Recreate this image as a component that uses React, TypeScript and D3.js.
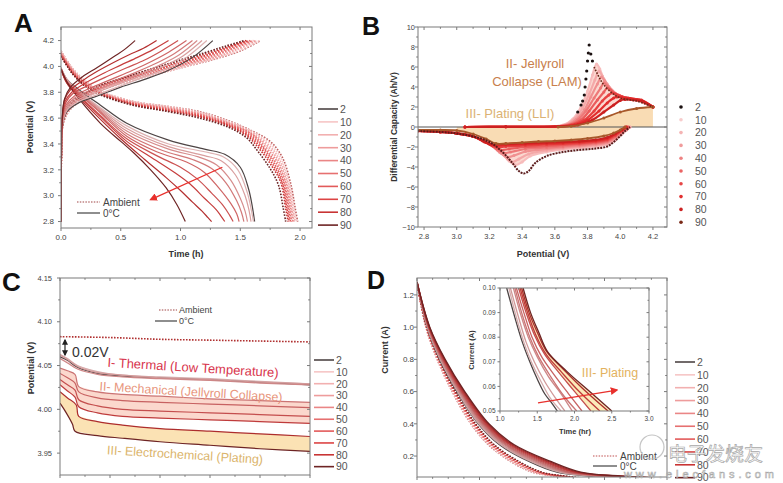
import React from 'react';
import * as d3 from 'd3';

type Pt = [number, number];

const cycles = ['2', '10', '20', '30', '40', '50', '60', '70', '80', '90'];
const lineColors = ['#4d4444', '#f6c6c6', '#f2b0b0', '#ee9c9c', '#ea8686', '#e67070', '#e25a5a', '#dc4444', '#c83434', '#6e2424'];
const dotColors = ['#1a1010', '#f7cccc', '#f4b4b4', '#f09c9c', '#ee8282', '#ea6464', '#e64646', '#e23030', '#cc2222', '#7a2a18'];
const bCurveColors = ['#5a1a1a', '#f7bcbc', '#f4a8a8', '#f09090', '#ee7878', '#ea5c5c', '#e64040', '#e22c2c', '#cc2020', '#a8582a'];

// ---------- Panel A: potential vs time ----------
const aXTicks = [0, 0.5, 1.0, 1.5, 2.0];
const aYTicks = [2.8, 3.0, 3.2, 3.4, 3.6, 3.8, 4.0, 4.2];
const aDis0C: Pt[][] = [
  [[0, 3.99], [0.05, 3.9], [0.15, 3.82], [0.33, 3.7], [0.55, 3.56], [0.9, 3.43], [1.2, 3.36], [1.37, 3.32], [1.5, 3.22], [1.57, 3.05], [1.6, 2.92], [1.62, 2.8]],
  [[0, 3.99], [0.05, 3.9], [0.15, 3.81], [0.33, 3.68], [0.55, 3.54], [0.9, 3.4], [1.2, 3.34], [1.36, 3.3], [1.48, 3.2], [1.56, 3.02], [1.59, 2.9], [1.61, 2.8]],
  [[0, 3.99], [0.05, 3.89], [0.15, 3.8], [0.33, 3.67], [0.55, 3.52], [0.9, 3.38], [1.2, 3.31], [1.34, 3.27], [1.46, 3.16], [1.54, 3.0], [1.57, 2.9], [1.59, 2.8]],
  [[0, 3.99], [0.05, 3.89], [0.15, 3.8], [0.33, 3.66], [0.55, 3.5], [0.9, 3.36], [1.15, 3.3], [1.3, 3.24], [1.42, 3.12], [1.5, 2.98], [1.54, 2.88], [1.56, 2.8]],
  [[0, 3.98], [0.05, 3.88], [0.15, 3.79], [0.33, 3.65], [0.55, 3.48], [0.85, 3.35], [1.1, 3.28], [1.26, 3.21], [1.38, 3.1], [1.47, 2.96], [1.51, 2.87], [1.53, 2.8]],
  [[0, 3.98], [0.05, 3.88], [0.15, 3.79], [0.33, 3.64], [0.55, 3.46], [0.8, 3.34], [1.05, 3.26], [1.2, 3.18], [1.32, 3.06], [1.42, 2.94], [1.47, 2.86], [1.49, 2.8]],
  [[0, 3.98], [0.05, 3.88], [0.15, 3.78], [0.33, 3.62], [0.55, 3.44], [0.8, 3.31], [1.0, 3.22], [1.14, 3.13], [1.26, 3.02], [1.36, 2.92], [1.41, 2.85], [1.44, 2.8]],
  [[0, 3.98], [0.05, 3.87], [0.15, 3.77], [0.33, 3.61], [0.55, 3.42], [0.75, 3.3], [0.95, 3.18], [1.08, 3.09], [1.2, 2.98], [1.3, 2.89], [1.34, 2.84], [1.37, 2.8]],
  [[0, 3.98], [0.05, 3.87], [0.15, 3.76], [0.33, 3.59], [0.5, 3.44], [0.7, 3.28], [0.88, 3.14], [1.0, 3.04], [1.1, 2.95], [1.18, 2.88], [1.23, 2.83], [1.26, 2.8]],
  [[0, 3.98], [0.05, 3.88], [0.15, 3.75], [0.33, 3.56], [0.5, 3.42], [0.61, 3.33], [0.75, 3.2], [0.88, 3.06], [0.97, 2.93], [1.04, 2.8]],
];
const aChg0C: Pt[][] = [
  [[0, 2.8], [0.004, 3.3], [0.015, 3.55], [0.05, 3.65], [0.15, 3.72], [0.3, 3.77], [0.5, 3.84], [0.7, 3.9], [0.9, 3.97], [1.1, 4.07], [1.27, 4.2]],
  [[0, 2.8], [0.004, 3.3], [0.015, 3.56], [0.05, 3.66], [0.15, 3.73], [0.3, 3.78], [0.5, 3.85], [0.7, 3.92], [0.9, 3.99], [1.05, 4.07], [1.22, 4.2]],
  [[0, 2.8], [0.004, 3.3], [0.015, 3.57], [0.05, 3.67], [0.14, 3.74], [0.3, 3.8], [0.5, 3.87], [0.7, 3.94], [0.88, 4.01], [1.02, 4.08], [1.18, 4.2]],
  [[0, 2.8], [0.004, 3.32], [0.014, 3.58], [0.05, 3.68], [0.13, 3.75], [0.28, 3.81], [0.48, 3.88], [0.68, 3.95], [0.85, 4.02], [0.99, 4.09], [1.14, 4.2]],
  [[0, 2.8], [0.004, 3.33], [0.013, 3.59], [0.045, 3.69], [0.12, 3.76], [0.26, 3.82], [0.45, 3.89], [0.64, 3.96], [0.81, 4.03], [0.95, 4.1], [1.1, 4.2]],
  [[0, 2.8], [0.004, 3.34], [0.012, 3.6], [0.04, 3.7], [0.11, 3.77], [0.24, 3.83], [0.42, 3.9], [0.6, 3.97], [0.76, 4.04], [0.9, 4.11], [1.05, 4.2]],
  [[0, 2.8], [0.004, 3.35], [0.011, 3.6], [0.04, 3.72], [0.1, 3.79], [0.22, 3.85], [0.38, 3.92], [0.55, 3.99], [0.7, 4.05], [0.84, 4.12], [0.98, 4.2]],
  [[0, 2.8], [0.003, 3.36], [0.01, 3.6], [0.035, 3.73], [0.09, 3.8], [0.2, 3.87], [0.34, 3.94], [0.5, 4.01], [0.64, 4.07], [0.77, 4.13], [0.9, 4.2]],
  [[0, 2.8], [0.003, 3.38], [0.01, 3.6], [0.03, 3.74], [0.08, 3.82], [0.18, 3.89], [0.3, 3.96], [0.44, 4.03], [0.57, 4.09], [0.69, 4.14], [0.8, 4.2]],
  [[0, 2.8], [0.003, 3.4], [0.01, 3.6], [0.03, 3.75], [0.08, 3.84], [0.18, 3.92], [0.3, 3.99], [0.45, 4.08], [0.53, 4.13], [0.62, 4.2]],
];
const aChgAmb: Pt[][] = [
  [[0, 2.8], [0.005, 3.35], [0.02, 3.56], [0.08, 3.67], [0.2, 3.75], [0.35, 3.82], [0.55, 3.88], [0.8, 3.94], [1.05, 4.0], [1.3, 4.06], [1.5, 4.12], [1.67, 4.2]],
  [[0, 2.8], [0.005, 3.35], [0.02, 3.56], [0.08, 3.67], [0.2, 3.75], [0.35, 3.82], [0.55, 3.88], [0.8, 3.94], [1.05, 4.0], [1.3, 4.065], [1.5, 4.125], [1.66, 4.2]],
  [[0, 2.8], [0.005, 3.36], [0.02, 3.57], [0.08, 3.68], [0.2, 3.76], [0.35, 3.83], [0.55, 3.89], [0.8, 3.95], [1.05, 4.01], [1.3, 4.07], [1.48, 4.13], [1.64, 4.2]],
  [[0, 2.8], [0.005, 3.36], [0.02, 3.57], [0.08, 3.68], [0.2, 3.76], [0.35, 3.83], [0.55, 3.89], [0.8, 3.95], [1.05, 4.015], [1.3, 4.075], [1.47, 4.135], [1.63, 4.2]],
  [[0, 2.8], [0.005, 3.37], [0.02, 3.58], [0.08, 3.69], [0.2, 3.77], [0.35, 3.84], [0.55, 3.9], [0.8, 3.96], [1.05, 4.02], [1.28, 4.08], [1.45, 4.14], [1.61, 4.2]],
  [[0, 2.8], [0.005, 3.37], [0.02, 3.58], [0.08, 3.69], [0.2, 3.77], [0.35, 3.84], [0.55, 3.9], [0.8, 3.96], [1.05, 4.025], [1.27, 4.085], [1.44, 4.14], [1.6, 4.2]],
  [[0, 2.8], [0.005, 3.38], [0.02, 3.59], [0.08, 3.7], [0.2, 3.78], [0.35, 3.85], [0.55, 3.91], [0.8, 3.97], [1.03, 4.03], [1.25, 4.09], [1.42, 4.145], [1.58, 4.2]],
  [[0, 2.8], [0.005, 3.38], [0.02, 3.59], [0.08, 3.7], [0.2, 3.78], [0.35, 3.85], [0.55, 3.91], [0.8, 3.975], [1.02, 4.035], [1.24, 4.095], [1.41, 4.15], [1.57, 4.2]],
  [[0, 2.8], [0.005, 3.39], [0.02, 3.6], [0.08, 3.71], [0.2, 3.79], [0.35, 3.86], [0.55, 3.92], [0.78, 3.98], [1.0, 4.04], [1.22, 4.1], [1.39, 4.15], [1.55, 4.2]],
  [[0, 2.8], [0.005, 3.4], [0.02, 3.6], [0.08, 3.71], [0.2, 3.79], [0.35, 3.86], [0.55, 3.92], [0.77, 3.985], [0.98, 4.045], [1.2, 4.105], [1.37, 4.155], [1.53, 4.2]],
];
const aDisAmb: Pt[][] = [
  [[0, 4.12], [0.1, 3.98], [0.2, 3.89], [0.33, 3.81], [0.6, 3.73], [0.9, 3.69], [1.16, 3.65], [1.4, 3.58], [1.6, 3.5], [1.75, 3.42], [1.85, 3.3], [1.92, 3.1], [1.96, 2.9], [1.98, 2.8]],
  [[0, 4.12], [0.1, 3.98], [0.2, 3.89], [0.33, 3.81], [0.6, 3.73], [0.9, 3.69], [1.16, 3.645], [1.4, 3.575], [1.6, 3.495], [1.74, 3.41], [1.84, 3.29], [1.91, 3.1], [1.95, 2.9], [1.97, 2.8]],
  [[0, 4.11], [0.1, 3.97], [0.2, 3.88], [0.33, 3.805], [0.6, 3.725], [0.9, 3.685], [1.16, 3.64], [1.4, 3.57], [1.6, 3.49], [1.73, 3.4], [1.83, 3.28], [1.9, 3.1], [1.94, 2.9], [1.96, 2.8]],
  [[0, 4.11], [0.1, 3.97], [0.2, 3.88], [0.33, 3.8], [0.6, 3.72], [0.9, 3.68], [1.16, 3.635], [1.4, 3.565], [1.6, 3.48], [1.72, 3.39], [1.82, 3.27], [1.89, 3.1], [1.93, 2.9], [1.95, 2.8]],
  [[0, 4.1], [0.1, 3.96], [0.2, 3.87], [0.33, 3.8], [0.6, 3.72], [0.9, 3.675], [1.16, 3.63], [1.4, 3.56], [1.6, 3.475], [1.71, 3.38], [1.81, 3.26], [1.88, 3.1], [1.92, 2.9], [1.94, 2.8]],
  [[0, 4.1], [0.1, 3.96], [0.2, 3.87], [0.33, 3.795], [0.6, 3.715], [0.9, 3.67], [1.16, 3.625], [1.4, 3.555], [1.6, 3.47], [1.7, 3.37], [1.8, 3.25], [1.87, 3.1], [1.91, 2.9], [1.93, 2.8]],
  [[0, 4.09], [0.1, 3.95], [0.2, 3.86], [0.33, 3.79], [0.6, 3.71], [0.9, 3.665], [1.16, 3.62], [1.4, 3.55], [1.58, 3.47], [1.69, 3.37], [1.79, 3.24], [1.86, 3.1], [1.9, 2.9], [1.92, 2.8]],
  [[0, 4.09], [0.1, 3.95], [0.2, 3.86], [0.33, 3.79], [0.6, 3.71], [0.9, 3.66], [1.16, 3.615], [1.4, 3.545], [1.57, 3.465], [1.68, 3.36], [1.78, 3.23], [1.85, 3.1], [1.89, 2.9], [1.91, 2.8]],
  [[0, 4.08], [0.1, 3.94], [0.2, 3.85], [0.33, 3.785], [0.6, 3.705], [0.9, 3.655], [1.16, 3.61], [1.4, 3.54], [1.56, 3.46], [1.67, 3.35], [1.77, 3.22], [1.84, 3.1], [1.88, 2.9], [1.9, 2.8]],
  [[0, 4.08], [0.1, 3.94], [0.2, 3.85], [0.33, 3.78], [0.6, 3.7], [0.9, 3.65], [1.16, 3.6], [1.4, 3.53], [1.55, 3.45], [1.65, 3.34], [1.75, 3.21], [1.82, 3.08], [1.86, 2.9], [1.88, 2.8]],
];
const aArrow: Pt[] = [[1.35, 3.22], [0.75, 2.97]];

// ---------- Panel B: differential capacity ----------
const bXTicks = [2.8, 3.0, 3.2, 3.4, 3.6, 3.8, 4.0, 4.2];
const bYTicks = [-10, -8, -6, -4, -2, 0, 2, 4, 6, 8, 10];
const bDis: Pt[][] = [
  [[2.76, -0.4], [2.9, -0.5], [3.0, -0.65], [3.1, -0.95], [3.2, -1.5], [3.28, -2.5], [3.34, -3.6], [3.38, -4.4], [3.41, -4.65], [3.44, -4.4], [3.48, -3.6], [3.55, -2.9], [3.65, -2.5], [3.75, -2.3], [3.85, -2.15], [3.92, -1.95], [3.96, -1.5], [4.0, -0.9], [4.03, -0.4], [4.06, 0]],
  [[2.76, -0.4], [2.9, -0.5], [3.0, -0.65], [3.1, -0.95], [3.2, -1.55], [3.27, -2.5], [3.32, -3.4], [3.36, -3.8], [3.4, -3.5], [3.45, -2.9], [3.55, -2.5], [3.65, -2.25], [3.75, -2.1], [3.85, -1.95], [3.92, -1.75], [3.97, -1.3], [4.01, -0.7], [4.04, -0.3], [4.06, 0]],
  [[2.76, -0.4], [2.9, -0.5], [3.0, -0.65], [3.1, -0.95], [3.2, -1.6], [3.27, -2.6], [3.31, -3.2], [3.34, -3.5], [3.38, -3.2], [3.44, -2.7], [3.55, -2.35], [3.65, -2.15], [3.75, -2.0], [3.85, -1.85], [3.92, -1.65], [3.97, -1.2], [4.01, -0.6], [4.04, -0.25], [4.06, 0]],
  [[2.76, -0.4], [2.9, -0.5], [3.0, -0.65], [3.1, -0.95], [3.2, -1.65], [3.26, -2.5], [3.31, -3.0], [3.35, -2.85], [3.42, -2.45], [3.55, -2.2], [3.65, -2.05], [3.75, -1.9], [3.85, -1.75], [3.92, -1.55], [3.97, -1.1], [4.01, -0.5], [4.04, -0.2], [4.05, 0]],
  [[2.76, -0.4], [2.9, -0.5], [3.0, -0.65], [3.1, -0.95], [3.2, -1.7], [3.25, -2.3], [3.29, -2.6], [3.33, -2.5], [3.42, -2.2], [3.55, -2.05], [3.65, -1.95], [3.75, -1.8], [3.85, -1.65], [3.92, -1.45], [3.97, -1.0], [4.01, -0.45], [4.05, 0]],
  [[2.76, -0.4], [2.9, -0.5], [3.0, -0.65], [3.1, -0.95], [3.19, -1.6], [3.24, -2.1], [3.27, -2.3], [3.32, -2.2], [3.42, -2.0], [3.55, -1.9], [3.65, -1.8], [3.75, -1.7], [3.85, -1.55], [3.92, -1.35], [3.97, -0.9], [4.01, -0.4], [4.04, 0]],
  [[2.76, -0.4], [2.9, -0.5], [3.0, -0.65], [3.1, -0.95], [3.18, -1.55], [3.22, -1.9], [3.25, -2.0], [3.3, -1.95], [3.42, -1.85], [3.55, -1.75], [3.65, -1.68], [3.75, -1.6], [3.85, -1.45], [3.92, -1.25], [3.97, -0.8], [4.01, -0.35], [4.04, 0]],
  [[2.76, -0.4], [2.9, -0.5], [3.0, -0.65], [3.1, -0.95], [3.17, -1.5], [3.21, -1.8], [3.24, -1.85], [3.3, -1.8], [3.42, -1.72], [3.55, -1.65], [3.65, -1.6], [3.75, -1.5], [3.85, -1.35], [3.92, -1.15], [3.97, -0.7], [4.01, -0.3], [4.04, 0]],
  [[2.76, -0.35], [2.9, -0.45], [3.0, -0.6], [3.1, -0.9], [3.16, -1.4], [3.2, -1.7], [3.23, -1.75], [3.3, -1.7], [3.42, -1.62], [3.55, -1.55], [3.65, -1.5], [3.75, -1.42], [3.85, -1.28], [3.92, -1.05], [3.97, -0.65], [4.01, -0.25], [4.03, 0]],
  [[2.76, -0.3], [2.9, -0.3], [3.0, -0.35], [3.1, -0.7], [3.18, -1.2], [3.24, -1.65], [3.3, -1.65], [3.4, -1.55], [3.5, -1.45], [3.6, -1.4], [3.7, -1.3], [3.8, -1.15], [3.9, -0.9], [3.96, -0.6], [4.0, -0.3], [4.03, 0]],
];
const bChg: Pt[][] = [
  [[3.05, 0], [3.3, 0.02], [3.55, 0.05], [3.65, 0.25], [3.7, 0.7], [3.74, 1.5], [3.76, 2.2], [3.77, 2.6], [3.78, 3.2], [3.785, 4.0], [3.79, 4.8], [3.795, 5.6], [3.8, 6.6], [3.805, 7.4], [3.81, 8.2], [3.82, 7.3], [3.83, 6.6], [3.84, 6.0], [3.87, 5.0], [3.9, 4.2], [3.95, 3.4], [4.0, 2.9], [4.1, 2.6], [4.2, 2.0]],
  [[3.05, 0], [3.3, 0.02], [3.55, 0.05], [3.65, 0.2], [3.71, 0.8], [3.76, 2.0], [3.8, 3.6], [3.83, 5.2], [3.855, 6.3], [3.875, 5.8], [3.9, 4.8], [3.95, 3.7], [4.0, 3.1], [4.1, 2.7], [4.2, 2.0]],
  [[3.05, 0], [3.3, 0.02], [3.55, 0.05], [3.66, 0.2], [3.72, 0.8], [3.77, 1.9], [3.81, 3.3], [3.845, 4.7], [3.87, 5.6], [3.89, 5.1], [3.92, 4.3], [3.96, 3.5], [4.0, 3.05], [4.1, 2.7], [4.2, 2.0]],
  [[3.05, 0], [3.3, 0.02], [3.56, 0.05], [3.67, 0.2], [3.73, 0.75], [3.78, 1.7], [3.82, 3.0], [3.86, 4.3], [3.885, 5.0], [3.905, 4.6], [3.93, 4.0], [3.97, 3.35], [4.02, 2.95], [4.1, 2.7], [4.2, 2.0]],
  [[3.05, 0], [3.3, 0.02], [3.57, 0.05], [3.68, 0.2], [3.74, 0.7], [3.79, 1.6], [3.84, 2.9], [3.88, 3.9], [3.9, 4.4], [3.92, 4.1], [3.95, 3.6], [3.99, 3.2], [4.04, 2.9], [4.1, 2.7], [4.2, 2.0]],
  [[3.05, 0], [3.3, 0.02], [3.58, 0.05], [3.69, 0.2], [3.76, 0.7], [3.81, 1.6], [3.86, 2.7], [3.9, 3.5], [3.92, 3.9], [3.94, 3.7], [3.97, 3.3], [4.01, 3.05], [4.06, 2.85], [4.12, 2.65], [4.2, 2.0]],
  [[3.05, 0], [3.3, 0.02], [3.59, 0.05], [3.7, 0.2], [3.78, 0.7], [3.84, 1.6], [3.89, 2.6], [3.93, 3.2], [3.95, 3.4], [3.97, 3.3], [4.0, 3.1], [4.05, 2.9], [4.12, 2.7], [4.2, 2.0]],
  [[3.05, 0], [3.3, 0.02], [3.6, 0.05], [3.72, 0.2], [3.8, 0.7], [3.87, 1.6], [3.92, 2.4], [3.96, 2.9], [3.98, 3.0], [4.01, 2.95], [4.06, 2.85], [4.13, 2.7], [4.2, 2.0]],
  [[3.05, 0], [3.3, 0.02], [3.62, 0.05], [3.74, 0.2], [3.83, 0.7], [3.9, 1.5], [3.96, 2.2], [4.0, 2.65], [4.03, 2.75], [4.08, 2.7], [4.14, 2.55], [4.2, 2.0]],
  [[3.62, 0], [3.7, 0.08], [3.8, 0.4], [3.9, 0.9], [4.0, 1.5], [4.1, 1.85], [4.2, 2.0]],
];

// ---------- Panel C: potential during rest ----------
const cYTicks = [3.95, 4.0, 4.05, 4.1, 4.15];
const cXTicks = [0, 2, 4, 6, 8, 10];
const c0C: Pt[][] = [
  [[0, 4.06], [0.3, 4.056], [0.7, 4.048], [1.5, 4.041], [2.5, 4.038], [4, 4.036], [6, 4.034], [8, 4.031], [10, 4.028]],
  [[0, 4.063], [0.3, 4.058], [0.7, 4.05], [1.5, 4.043], [2.5, 4.039], [4, 4.037], [6, 4.035], [8, 4.032], [10, 4.029]],
  [[0, 4.062], [0.3, 4.057], [0.7, 4.049], [1.5, 4.042], [2.5, 4.039], [4, 4.036], [6, 4.034], [8, 4.031], [10, 4.029]],
  [[0, 4.058], [0.3, 4.053], [0.7, 4.046], [1.5, 4.04], [2.5, 4.037], [4, 4.035], [6, 4.033], [8, 4.03], [10, 4.028]],
  [[0, 4.047], [0.3, 4.044], [0.6, 4.04], [0.75, 4.026], [1.5, 4.02], [2.5, 4.017], [4, 4.015], [6, 4.012], [8, 4.01], [10, 4.008]],
  [[0, 4.041], [0.3, 4.036], [0.6, 4.03], [0.75, 4.02], [1.5, 4.013], [2.5, 4.01], [4, 4.008], [6, 4.006], [8, 4.004], [10, 4.002]],
  [[0, 4.034], [0.3, 4.028], [0.6, 4.022], [0.75, 4.011], [1.5, 4.004], [2.5, 4.0], [4, 3.998], [6, 3.996], [8, 3.994], [10, 3.992]],
  [[0, 4.028], [0.3, 4.021], [0.6, 4.014], [0.75, 4.003], [1.5, 3.996], [2.5, 3.992], [4, 3.99], [6, 3.988], [8, 3.986], [10, 3.984]],
  [[0, 4.02], [0.3, 4.013], [0.65, 4.005], [0.75, 3.992], [1.5, 3.986], [2.5, 3.982], [4, 3.978], [6, 3.975], [8, 3.972], [10, 3.969]],
  [[0, 4.007], [0.25, 3.996], [0.5, 3.983], [0.6, 3.975], [1.5, 3.97], [2.5, 3.967], [4, 3.963], [6, 3.959], [8, 3.955], [10, 3.952]],
];
const cAmb: Pt[] = [[0, 4.083], [2, 4.082], [4, 4.08], [6, 4.079], [8, 4.078], [10, 4.077]];

// ---------- Panel D: current decay ----------
const dYTicks = [0.2, 0.4, 0.6, 0.8, 1.0, 1.2];
const dXTicks = [0, 0.5, 1.0, 1.5, 2.0];
const d0C: Pt[][] = [
  [[0, 1.28], [0.08, 1.0], [0.18, 0.8], [0.32, 0.6], [0.49, 0.4], [0.66, 0.27], [0.9, 0.165], [1.12, 0.1], [1.4, 0.075], [1.77, 0.05]],
  [[0, 1.28], [0.083, 1.0], [0.185, 0.8], [0.325, 0.6], [0.495, 0.4], [0.67, 0.27], [0.915, 0.165], [1.14, 0.1], [1.43, 0.075], [1.82, 0.05]],
  [[0, 1.28], [0.085, 1.0], [0.19, 0.8], [0.333, 0.6], [0.505, 0.4], [0.685, 0.27], [0.935, 0.165], [1.16, 0.1], [1.46, 0.075], [1.87, 0.05]],
  [[0, 1.28], [0.088, 1.0], [0.195, 0.8], [0.34, 0.6], [0.515, 0.4], [0.7, 0.27], [0.955, 0.165], [1.18, 0.1], [1.5, 0.075], [1.97, 0.05]],
  [[0, 1.28], [0.09, 1.0], [0.2, 0.8], [0.347, 0.6], [0.525, 0.4], [0.712, 0.27], [0.975, 0.165], [1.2, 0.1], [1.53, 0.075], [2.03, 0.05]],
  [[0, 1.28], [0.092, 1.0], [0.205, 0.8], [0.353, 0.6], [0.535, 0.4], [0.725, 0.27], [0.995, 0.165], [1.22, 0.1], [1.57, 0.075], [2.1, 0.05]],
  [[0, 1.28], [0.095, 1.0], [0.21, 0.8], [0.36, 0.6], [0.545, 0.4], [0.74, 0.27], [1.015, 0.165], [1.25, 0.1], [1.6, 0.075], [2.22, 0.05]],
  [[0, 1.28], [0.097, 1.0], [0.215, 0.8], [0.367, 0.6], [0.555, 0.4], [0.752, 0.27], [1.035, 0.165], [1.27, 0.1], [1.62, 0.075], [2.34, 0.05]],
  [[0, 1.28], [0.1, 1.0], [0.22, 0.8], [0.375, 0.6], [0.565, 0.4], [0.765, 0.27], [1.055, 0.165], [1.29, 0.1], [1.63, 0.075], [2.45, 0.05]],
  [[0, 1.28], [0.102, 1.0], [0.225, 0.8], [0.382, 0.6], [0.575, 0.4], [0.778, 0.27], [1.075, 0.165], [1.31, 0.1], [1.64, 0.075], [2.5, 0.05]],
];
const dAmb: Pt[][] = [
  [[0, 1.27], [0.07, 1.0], [0.16, 0.8], [0.28, 0.6], [0.43, 0.4], [0.57, 0.27], [0.75, 0.165], [0.92, 0.1], [1.1, 0.075], [1.4, 0.05]],
  [[0, 1.27], [0.071, 1.0], [0.162, 0.8], [0.283, 0.6], [0.434, 0.4], [0.575, 0.27], [0.757, 0.165], [0.93, 0.1], [1.11, 0.075], [1.41, 0.05]],
  [[0, 1.27], [0.072, 1.0], [0.164, 0.8], [0.286, 0.6], [0.438, 0.4], [0.58, 0.27], [0.765, 0.165], [0.94, 0.1], [1.12, 0.075], [1.42, 0.05]],
  [[0, 1.27], [0.073, 1.0], [0.166, 0.8], [0.29, 0.6], [0.442, 0.4], [0.585, 0.27], [0.772, 0.165], [0.95, 0.1], [1.13, 0.075], [1.43, 0.05]],
  [[0, 1.27], [0.074, 1.0], [0.168, 0.8], [0.293, 0.6], [0.447, 0.4], [0.59, 0.27], [0.78, 0.165], [0.955, 0.1], [1.14, 0.075], [1.44, 0.05]],
  [[0, 1.27], [0.075, 1.0], [0.17, 0.8], [0.296, 0.6], [0.452, 0.4], [0.596, 0.27], [0.788, 0.165], [0.965, 0.1], [1.15, 0.075], [1.45, 0.05]],
  [[0, 1.27], [0.076, 1.0], [0.173, 0.8], [0.3, 0.6], [0.457, 0.4], [0.602, 0.27], [0.796, 0.165], [0.975, 0.1], [1.16, 0.075], [1.46, 0.05]],
  [[0, 1.27], [0.077, 1.0], [0.175, 0.8], [0.303, 0.6], [0.461, 0.4], [0.608, 0.27], [0.804, 0.165], [0.985, 0.1], [1.17, 0.075], [1.47, 0.05]],
  [[0, 1.27], [0.078, 1.0], [0.177, 0.8], [0.306, 0.6], [0.466, 0.4], [0.614, 0.27], [0.812, 0.165], [0.993, 0.1], [1.185, 0.075], [1.48, 0.05]],
  [[0, 1.27], [0.08, 1.0], [0.18, 0.8], [0.31, 0.6], [0.47, 0.4], [0.62, 0.27], [0.82, 0.165], [1.0, 0.1], [1.2, 0.075], [1.5, 0.05]],
];
const diXTicks = [1.0, 1.5, 2.0, 2.5, 3.0];
const diYTicks = [0.05, 0.06, 0.07, 0.08, 0.09, 0.1];
const dInset: Pt[][] = [
  [[1.09, 0.1], [1.2, 0.088], [1.3, 0.078], [1.4, 0.07], [1.5, 0.063], [1.6, 0.057], [1.7, 0.053], [1.77, 0.05]],
  [[1.12, 0.1], [1.22, 0.088], [1.32, 0.078], [1.42, 0.07], [1.55, 0.062], [1.68, 0.055], [1.82, 0.05]],
  [[1.14, 0.1], [1.25, 0.088], [1.35, 0.078], [1.46, 0.07], [1.6, 0.062], [1.75, 0.055], [1.87, 0.05]],
  [[1.18, 0.1], [1.28, 0.089], [1.38, 0.08], [1.5, 0.072], [1.65, 0.064], [1.82, 0.057], [1.97, 0.05]],
  [[1.2, 0.1], [1.3, 0.089], [1.4, 0.08], [1.52, 0.072], [1.68, 0.064], [1.86, 0.056], [2.03, 0.05]],
  [[1.22, 0.1], [1.32, 0.09], [1.43, 0.08], [1.56, 0.072], [1.72, 0.065], [1.92, 0.057], [2.1, 0.05]],
  [[1.25, 0.1], [1.35, 0.09], [1.46, 0.081], [1.6, 0.073], [1.78, 0.066], [2.0, 0.058], [2.22, 0.05]],
  [[1.27, 0.1], [1.37, 0.09], [1.48, 0.081], [1.62, 0.073], [1.82, 0.066], [2.06, 0.058], [2.34, 0.05]],
  [[1.29, 0.1], [1.39, 0.09], [1.5, 0.082], [1.63, 0.074], [1.85, 0.067], [2.15, 0.058], [2.45, 0.05]],
  [[1.31, 0.1], [1.41, 0.09], [1.52, 0.082], [1.64, 0.074], [1.9, 0.066], [2.2, 0.058], [2.5, 0.05]],
];
const dArrow: Pt[] = [[1.51, 0.0533], [2.57, 0.0585]];

const FONT = "'Liberation Sans', Arial, Helvetica, sans-serif";
const AX = '#7a7a7a';

type Sc = d3.ScaleLinear<number, number>;

function Frame(p: {
  xs: Sc; ys: Sc; xMaj: number[]; yMaj: number[]; xFmt?: (v: number) => string; yFmt?: (v: number) => string;
  xSub?: number; ySub?: number; fs?: number; xLab?: boolean; tl?: number; yGap?: number;
}) {
  const { xs, ys, xMaj, yMaj } = p;
  const fs = p.fs ?? 8;
  const tl = p.tl ?? 3;
  const yGap = p.yGap ?? 3;
  const [xa, xb] = xs.range();
  const [ya, yb] = ys.range();
  const xSub = p.xSub ?? 2;
  const ySub = p.ySub ?? 2;
  const xMin: number[] = [];
  for (let i = 0; i < xMaj.length - 1; i++) for (let k = 1; k < xSub; k++) xMin.push(xMaj[i] + ((xMaj[i + 1] - xMaj[i]) * k) / xSub);
  const yMin: number[] = [];
  for (let i = 0; i < yMaj.length - 1; i++) for (let k = 1; k < ySub; k++) yMin.push(yMaj[i] + ((yMaj[i + 1] - yMaj[i]) * k) / ySub);
  return (
    <g fontFamily={FONT}>
      <rect x={xa} y={yb} width={xb - xa} height={ya - yb} fill="none" stroke={AX} strokeWidth={1} />
      {xMaj.map((v, i) => {
        const px = xs(v);
        return (
          <g key={'xm' + i}>
            <line x1={px} x2={px} y1={ya} y2={ya + tl} stroke={AX} />
            <line x1={px} x2={px} y1={yb} y2={yb + tl} stroke={AX} />
            {p.xLab !== false && p.xFmt && (
              <text x={px} y={ya + tl + fs + 1} fontSize={fs} textAnchor="middle" fill="#444">{p.xFmt(v)}</text>
            )}
          </g>
        );
      })}
      {xMin.map((v, i) => (
        <g key={'xn' + i}>
          <line x1={xs(v)} x2={xs(v)} y1={ya} y2={ya + tl * 0.6} stroke={AX} />
          <line x1={xs(v)} x2={xs(v)} y1={yb} y2={yb + tl * 0.6} stroke={AX} />
        </g>
      ))}
      {yMaj.map((v, i) => {
        const py = ys(v);
        return (
          <g key={'ym' + i}>
            <line x1={xa - tl} x2={xa} y1={py} y2={py} stroke={AX} />
            <line x1={xb - tl} x2={xb} y1={py} y2={py} stroke={AX} />
            {p.yFmt && (
              <text x={xa - tl - yGap} y={py + fs * 0.35} fontSize={fs} textAnchor="end" fill="#444">{p.yFmt(v)}</text>
            )}
          </g>
        );
      })}
      {yMin.map((v, i) => (
        <g key={'yn' + i}>
          <line x1={xa - tl * 0.6} x2={xa} y1={ys(v)} y2={ys(v)} stroke={AX} />
          <line x1={xb - tl * 0.6} x2={xb} y1={ys(v)} y2={ys(v)} stroke={AX} />
        </g>
      ))}
    </g>
  );
}

function mkLine(xs: Sc, ys: Sc) {
  return d3.line<Pt>().x((d) => xs(d[0])).y((d) => ys(d[1])).curve(d3.curveCatmullRom.alpha(0.5));
}
function band(xs: Sc, ys: Sc, a: Pt[], b: Pt[]) {
  const pts = a.concat(b.slice().reverse());
  return (d3.line<Pt>().x((d) => xs(d[0])).y((d) => ys(d[1])).curve(d3.curveLinear)(pts) || '') + 'Z';
}

function LineLegend({ x, y0, dy }: { x: number; y0: number; dy: number }) {
  return (
    <g fontFamily={FONT}>
      {cycles.map((c, i) => (
        <g key={c}>
          <line x1={x} x2={x + 20} y1={y0 + i * dy} y2={y0 + i * dy} stroke={lineColors[i]} strokeWidth={1.6} />
          <text x={x + 22} y={y0 + i * dy + 3.8} fontSize={10.5} fill="#555">{c}</text>
        </g>
      ))}
    </g>
  );
}

export default function App() {
  React.useEffect(() => {
    document.body.style.margin = '0';
  }, []);

  const xA = d3.scaleLinear().domain([0, 2.1]).range([61, 312]);
  const yA = d3.scaleLinear().domain([2.75, 4.305]).range([228, 27]);
  const xB = d3.scaleLinear().domain([2.763, 4.286]).range([418, 667]);
  const yB = d3.scaleLinear().domain([-10, 10]).range([227, 27]);
  const xC = d3.scaleLinear().domain([0, 10]).range([60, 310]);
  const yC = d3.scaleLinear().domain([3.925, 4.15]).range([475, 278]);
  const xD = d3.scaleLinear().domain([0, 2]).range([417, 667]);
  const yD = d3.scaleLinear().domain([0.07, 1.305]).range([477, 278]);
  const xI = d3.scaleLinear().domain([1, 3]).range([500, 649]);
  const yI = d3.scaleLinear().domain([0.05, 0.1]).range([411, 288]);

  const lA = mkLine(xA, yA);
  const lB = mkLine(xB, yB);
  const lC = mkLine(xC, yC);
  const lD = mkLine(xD, yD);
  const lI = mkLine(xI, yI);

  const f1 = d3.format('.1f');
  const f2 = d3.format('.2f');
  const fInt = d3.format('d');

  const zeroB: Pt[] = [[2.76, 0], [4.286, 0]];
  const solid = (i: number, k: number) => (i === 0 || i === 9 ? lineColors[i] : d3.color(lineColors[i])!.darker(k).toString());
  const amb = (i: number) => (i === 0 ? '#c06060' : lineColors[i]);

  return (
    <svg width={783} height={483} style={{ position: 'absolute', left: 0, top: 0, background: '#fff' }} fontFamily={FONT}>
      <defs>
        <clipPath id="cA"><rect x={61} y={27} width={251} height={201} /></clipPath>
        <clipPath id="cB"><rect x={418} y={27} width={249} height={200} /></clipPath>
        <clipPath id="cC"><rect x={60} y={278} width={250} height={197} /></clipPath>
        <clipPath id="cD"><rect x={417} y={278} width={250} height={199} /></clipPath>
        <clipPath id="cI"><rect x={500} y={288} width={149} height={123} /></clipPath>
        <marker id="arr" viewBox="0 0 10 10" refX="8" refY="5" markerWidth="6" markerHeight="6" orient="auto">
          <path d="M0,0 L10,5 L0,10 z" fill="#e8302c" />
        </marker>
        <marker id="blk" viewBox="0 0 10 10" refX="8" refY="5" markerWidth="5" markerHeight="5" orient="auto-start-reverse">
          <path d="M0,0 L10,5 L0,10 z" fill="#222" />
        </marker>
      </defs>
      <rect x={0} y={0} width={783} height={483} fill="#fff" />

      {/* ================= Panel A ================= */}
      <text x={14} y={32} fontSize={26} fontWeight="bold" fill="#111">A</text>
      <g clipPath="url(#cA)" fill="none">
        {aDisAmb.map((d, i) => (
          <path key={'ada' + i} d={lA(d) || ''} stroke={amb(i)} strokeWidth={1.6} strokeDasharray="1.6 1.4" />
        ))}
        {aChgAmb.map((d, i) => (
          <path key={'aca' + i} d={lA(d) || ''} stroke={amb(i)} strokeWidth={1.6} strokeDasharray="1.6 1.4" />
        ))}
        {aDis0C.map((d, i) => (
          <path key={'ad' + i} d={lA(d) || ''} stroke={solid(i, 0.3)} strokeWidth={1.2} />
        ))}
        {aChg0C.map((d, i) => (
          <path key={'ac' + i} d={lA(d) || ''} stroke={solid(i, 0.3)} strokeWidth={1.2} />
        ))}
      </g>
      <line x1={xA(aArrow[0][0])} y1={yA(aArrow[0][1])} x2={xA(aArrow[1][0])} y2={yA(aArrow[1][1])} stroke="#e8302c" strokeWidth={1.3} markerEnd="url(#arr)" />
      <line x1={77} x2={100} y1={202} y2={202} stroke="#a04545" strokeWidth={1.2} strokeDasharray="1.5 1.3" />
      <text x={103} y={205.5} fontSize={10} fill="#444">Ambient</text>
      <line x1={77} x2={100} y1={213} y2={213} stroke="#444" strokeWidth={1.2} />
      <text x={103} y={216.5} fontSize={10} fill="#444">0°C</text>
      <Frame xs={xA} ys={yA} xMaj={aXTicks} yMaj={aYTicks} xFmt={f1} yFmt={f1} fs={8} yGap={4} />
      <text transform="translate(33,127) rotate(-90)" fontSize={9} fontWeight="bold" textAnchor="middle" fill="#333">Potential (V)</text>
      <text x={186} y={257} fontSize={9} fontWeight="bold" textAnchor="middle" fill="#333">Time (h)</text>
      <LineLegend x={318} y0={109} dy={12.9} />

      {/* ================= Panel B ================= */}
      <text x={362} y={35} fontSize={25} fontWeight="bold" fill="#111">B</text>
      <g clipPath="url(#cB)">
        <path d={band(xB, yB, bChg[1], bChg[8])} fill="#f9c8bc" opacity={0.7} />
        <path d={band(xB, yB, bDis[1], bDis[8])} fill="#f9c8bc" opacity={0.7} />
        <path d={band(xB, yB, bChg[9], [[3.62, 0], [4.2, 0]])} fill="#f9dcb4" />
        <path d={band(xB, yB, bDis[9].filter((d) => d[0] >= 3.0), [[3.0, 0], [4.03, 0]])} fill="#f9dcb4" />
        <path d={lB(zeroB) || ''} stroke="#555" strokeWidth={1.1} fill="none" />
        {[1, 2, 3, 4, 5, 6, 7, 8, 9].map((i) => (
          <g key={'bc' + i}>
            <path d={lB(bDis[i]) || ''} stroke={bCurveColors[i]} strokeWidth={i === 9 ? 1.8 : 2.2} fill="none" />
            <path d={lB(bChg[i]) || ''} stroke={bCurveColors[i]} strokeWidth={i === 9 ? 1.8 : 2.2} fill="none" />
            {bChg[i].map((d, k) => (
              <circle key={k} cx={xB(d[0])} cy={yB(d[1])} r={1.5} fill={bCurveColors[i]} />
            ))}
            {bDis[i].map((d, k) => (
              <circle key={'n' + k} cx={xB(d[0])} cy={yB(d[1])} r={1.5} fill={bCurveColors[i]} />
            ))}
          </g>
        ))}
        <path d={lB(bDis[0]) || ''} stroke={bCurveColors[0]} strokeWidth={2} fill="none" strokeDasharray="2 1" />
        <path d={lB(bChg[0].filter((d) => d[0] > 3.83)) || ''} stroke="#6a2a1a" strokeWidth={1.6} fill="none" strokeDasharray="1.6 1.4" />
        {bChg[0].filter((d) => d[0] >= 3.74 && d[0] <= 3.83).map((d, k) => (
          <circle key={'bk' + k} cx={xB(d[0])} cy={yB(d[1])} r={1.6} fill="#1a1010" />
        ))}
      </g>
      <text x={535} y={68} fontSize={13} textAnchor="middle" fill="#c8804c">II- Jellyroll</text>
      <text x={537} y={86} fontSize={13} textAnchor="middle" fill="#c8804c">Collapse (LAM)</text>
      <text x={510} y={118} fontSize={13} textAnchor="middle" fill="#dbb274">III- Plating (LLI)</text>
      <Frame xs={xB} ys={yB} xMaj={bXTicks} yMaj={bYTicks} xFmt={f1} yFmt={fInt} fs={7.5} yGap={0} />
      <text transform="translate(397,127) rotate(-90)" fontSize={8.5} fontWeight="bold" textAnchor="middle" fill="#333">Differential Capacity (Ah/V)</text>
      <text x={543} y={257} fontSize={9} fontWeight="bold" textAnchor="middle" fill="#333">Potential (V)</text>
      <g fontFamily={FONT}>
        {cycles.map((c, i) => (
          <g key={'bl' + c}>
            <circle cx={681} cy={107 + i * 12.8} r={1.8} fill={dotColors[i]} />
            <text x={695} y={107 + i * 12.8 + 3.8} fontSize={10.5} fill="#555">{c}</text>
          </g>
        ))}
      </g>

      {/* ================= Panel C ================= */}
      <text x={2} y={291} fontSize={26} fontWeight="bold" fill="#111">C</text>
      <g clipPath="url(#cC)" fill="none">
        <path d={band(xC, yC, c0C[1], c0C[3])} fill="#f7c4c4" opacity={0.6} />
        <path d={band(xC, yC, c0C[4], c0C[7])} fill="#f7b8a4" opacity={0.55} />
        <path d={band(xC, yC, c0C[8], c0C[9])} fill="#fbe2b4" />
        <path d={lC(cAmb) || ''} stroke="#b03030" strokeWidth={1.6} strokeDasharray="1.6 1.4" />
        {c0C.map((d, i) => (
          <path key={'c' + i} d={lC(d) || ''} stroke={solid(i, 0.4)} strokeWidth={1.2} />
        ))}
      </g>
      <line x1={65} x2={65} y1={340} y2={355} stroke="#222" strokeWidth={1.2} markerStart="url(#blk)" markerEnd="url(#blk)" />
      <text x={72} y={357} fontSize={14} fill="#333">0.02V</text>
      <text x={193} y={372} fontSize={13} textAnchor="middle" fill="#d8344c" transform="rotate(3.5,193,368)">I- Thermal (Low Temperature)</text>
      <text x={191} y={396} fontSize={12.5} textAnchor="middle" fill="#e8957c" transform="rotate(3.5,191,392)">II- Mechanical (Jellyroll Collapse)</text>
      <text x={185} y={459} fontSize={12.5} textAnchor="middle" fill="#dbb46a" transform="rotate(3.5,185,455)">III- Electrochemical (Plating)</text>
      <line x1={159} x2={177} y1={310} y2={310} stroke="#a04545" strokeWidth={1.2} strokeDasharray="1.5 1.3" />
      <text x={179} y={313} fontSize={9} fill="#444">Ambient</text>
      <line x1={155} x2={177} y1={321} y2={321} stroke="#444" strokeWidth={1.2} />
      <text x={179} y={324} fontSize={9} fill="#444">0°C</text>
      <Frame xs={xC} ys={yC} xMaj={cXTicks} yMaj={cYTicks} yFmt={f2} fs={7.5} yGap={5} />
      <text transform="translate(34,368) rotate(-90)" fontSize={9} fontWeight="bold" textAnchor="middle" fill="#333">Potential (V)</text>
      <LineLegend x={314} y0={360} dy={11.85} />

      {/* ================= Panel D ================= */}
      <text x={367} y={289} fontSize={25} fontWeight="bold" fill="#111">D</text>
      <g clipPath="url(#cD)" fill="none">
        {dAmb.map((d, i) => (
          <path key={'dda' + i} d={lD(d) || ''} stroke={amb(i)} strokeWidth={1.3} strokeDasharray="1.5 1.4" />
        ))}
        {d0C.map((d, i) => (
          <path key={'dd' + i} d={lD(d) || ''} stroke={solid(i, 0.5)} strokeWidth={1.4} />
        ))}
      </g>
      <Frame xs={xD} ys={yD} xMaj={dXTicks} xSub={4} yMaj={dYTicks} yFmt={f1} fs={8} yGap={0} />
      <text transform="translate(388,350) rotate(-90)" fontSize={9} fontWeight="bold" textAnchor="middle" fill="#333">Current (A)</text>
      <rect x={500} y={288} width={149} height={123} fill="#fff" />
      <g clipPath="url(#cI)" fill="none">
        <path d={band(xI, yI, dInset[6], dInset[9])} fill="#fbe6a8" opacity={0.8} />
        {dInset.map((d, i) => (
          <path key={'di' + i} d={lI(d) || ''} stroke={solid(i, 0.4)} strokeWidth={1.3} />
        ))}
      </g>
      <line x1={xI(dArrow[0][0])} y1={yI(dArrow[0][1])} x2={xI(dArrow[1][0])} y2={yI(dArrow[1][1])} stroke="#e8302c" strokeWidth={1.3} markerEnd="url(#arr)" />
      <text x={610} y={377} fontSize={12.5} textAnchor="middle" fill="#e3b25e">III- Plating</text>
      <Frame xs={xI} ys={yI} xMaj={diXTicks} yMaj={diYTicks} xFmt={f1} yFmt={f2} fs={6.5} tl={2.5} yGap={2} />
      <text transform="translate(474,350) rotate(-90)" fontSize={7.5} fontWeight="bold" textAnchor="middle" fill="#333">Current (A)</text>
      <text x={575} y={434} fontSize={7.5} fontWeight="bold" textAnchor="middle" fill="#333">Time (hr)</text>
      <line x1={593} x2={617} y1={456} y2={456} stroke="#c05050" strokeWidth={1.2} strokeDasharray="1.5 1.3" />
      <text x={620} y={459.5} fontSize={10} fill="#444">Ambient</text>
      <line x1={593} x2={617} y1={466} y2={466} stroke="#444" strokeWidth={1.2} />
      <text x={620} y={469.5} fontSize={10} fill="#444">0°C</text>
      <LineLegend x={675} y0={362} dy={12.85} />

      {/* watermark */}
      <g opacity={0.85}>
        <circle cx={652} cy={447} r={12} fill="none" stroke="#bbb" strokeWidth={1.2} />
        <text x={668} y={461} fontSize={19} fontFamily="'Noto Sans CJK SC', sans-serif" fill="#fff" stroke="#9a9a9a" strokeWidth={0.7}>电子发烧友</text>
        <text x={624} y={478} fontSize={11} textLength={150} fill="#fff" stroke="#9a9a9a" strokeWidth={0.6}>www.elecfans.com</text>
      </g>
    </svg>
  );
}
